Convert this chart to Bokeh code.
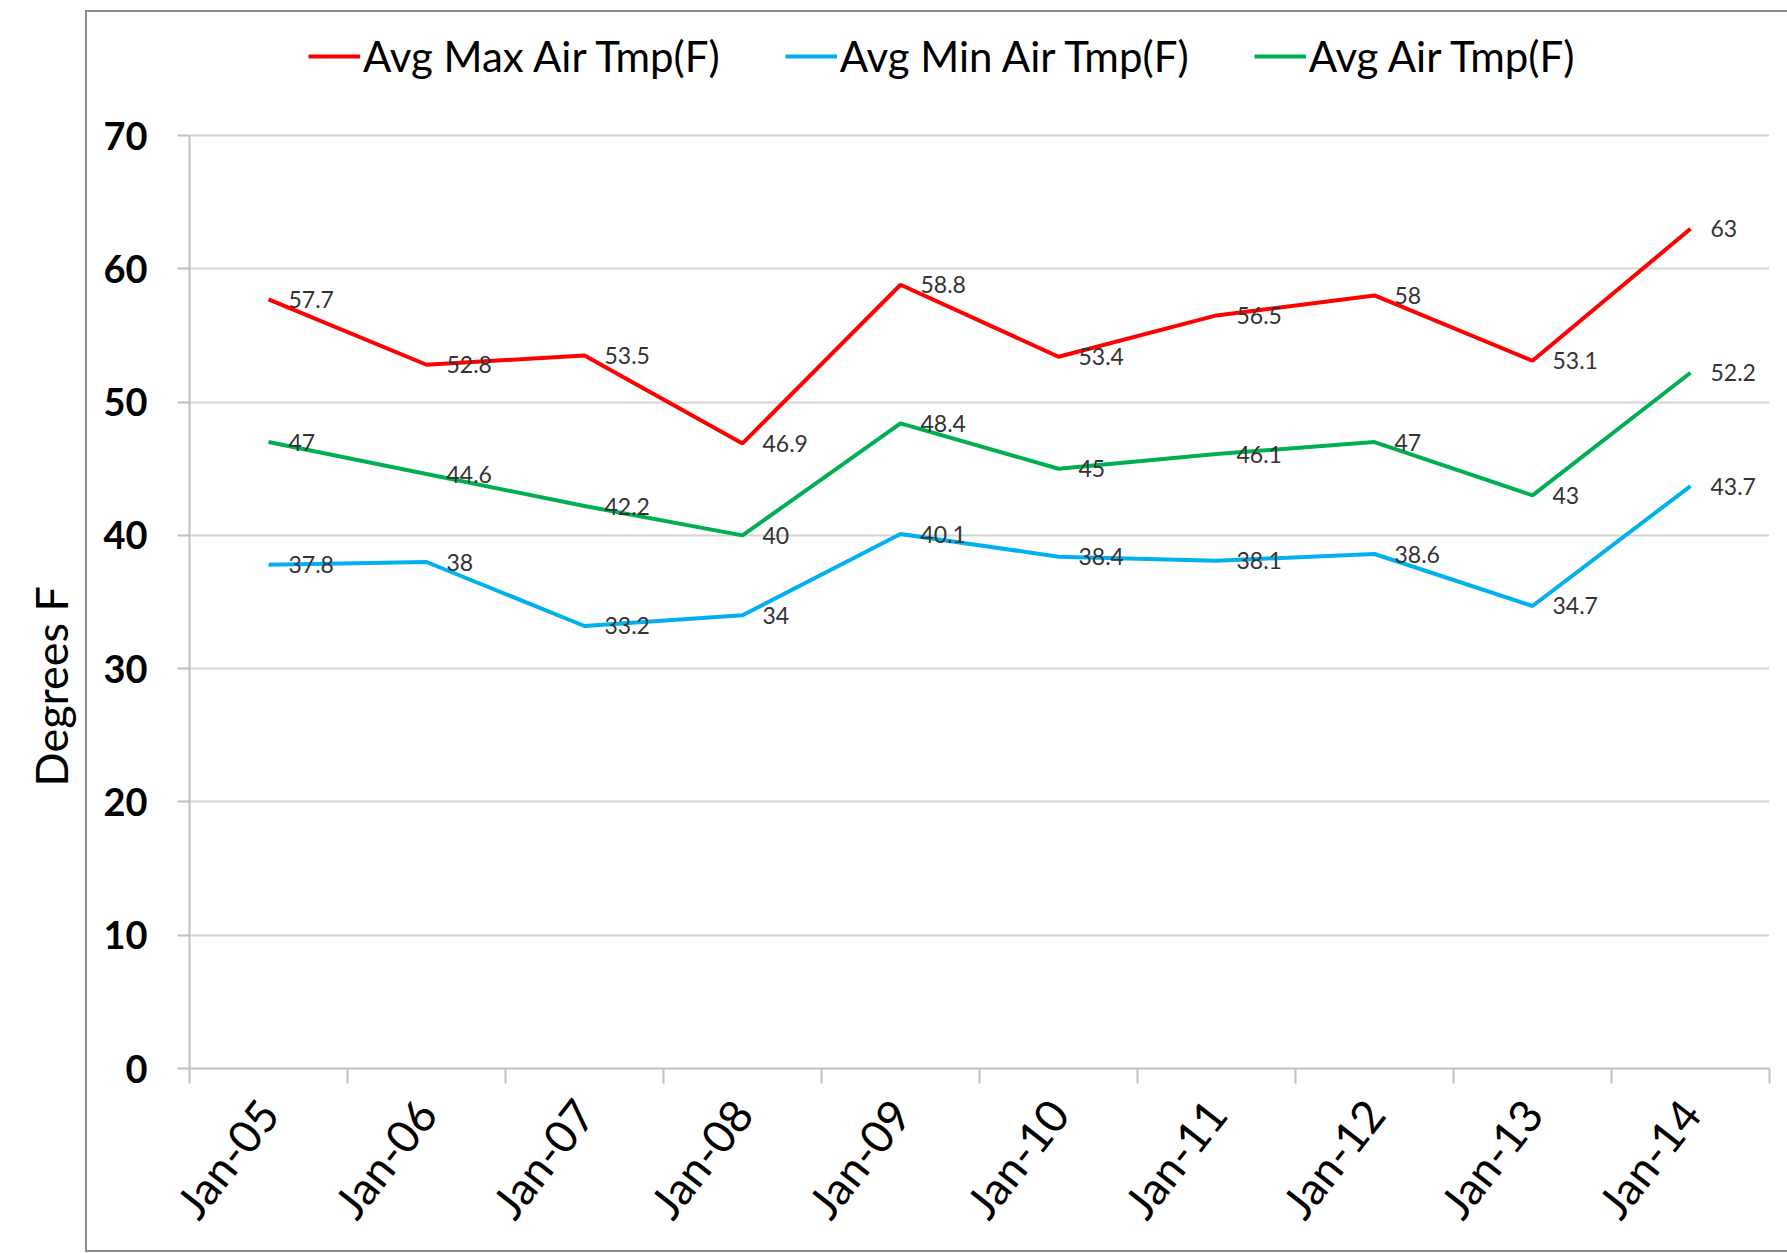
import math
import numpy as np
from bokeh.plotting import figure
from bokeh.models import (Range1d, FixedTicker, Legend, LegendItem, Title,
                          ColumnDataSource, LabelSet, InlineStyleSheet)
from bokeh.embed import file_html
from bokeh.resources import INLINE
from bokeh.core.properties import value

# ---------------- data ----------------
months = ["Jan-05", "Jan-06", "Jan-07", "Jan-08", "Jan-09",
          "Jan-10", "Jan-11", "Jan-12", "Jan-13", "Jan-14"]
avg_max = [57.7, 52.8, 53.5, 46.9, 58.8, 53.4, 56.5, 58.0, 53.1, 63.0]
avg_min = [37.8, 38.0, 33.2, 34.0, 40.1, 38.4, 38.1, 38.6, 34.7, 43.7]
avg_air = [47.0, 44.6, 42.2, 40.0, 48.4, 45.0, 46.1, 47.0, 43.0, 52.2]
series_names = ["Avg Max Air Tmp(F)", "Avg Min Air Tmp(F)", "Avg Air Tmp(F)"]
series_colors = ["#FF0000", "#00B0F0", "#00B050"]
y_ticks = [0, 10, 20, 30, 40, 50, 60, 70]
y_label = "Degrees F"

# ---------------- layout constants (pixels) ----------------
W, H = 1787, 1253
FONT = "Lato"
AXIS_TOP_PX = 135      # where the value 70 sits
AXIS_BOTTOM_PX = 1068  # where the value 0 sits
FRAME_TOP_PX = 30      # drawing area extends above the axis to host the legend
Y_MIN, Y_MAX = y_ticks[0], y_ticks[-1]
px_per_unit = (AXIS_BOTTOM_PX - AXIS_TOP_PX) / (Y_MAX - Y_MIN)
y_end = Y_MAX + (AXIS_TOP_PX - FRAME_TOP_PX) / px_per_unit

n = len(months)
xs = list(np.arange(n) + 0.5)  # category centres on a numeric scale

border_css = InlineStyleSheet(css="""
:host { position: relative; }
:host::after {
  content: ""; position: absolute; pointer-events: none;
  left: 85px; top: 10px; width: 1702px; height: 1242px;
  box-sizing: border-box;
  border-left: 2.5px solid #8c8c8c; border-top: 2.5px solid #8c8c8c;
  border-bottom: 2.5px solid #8c8c8c; border-right: none;
}
""")

p = figure(width=W, height=H, output_backend="svg", toolbar_location=None,
           x_range=Range1d(0, n), y_range=Range1d(Y_MIN, y_end),
           min_border_left=189, min_border_right=18,
           min_border_top=FRAME_TOP_PX, min_border_bottom=H - AXIS_BOTTOM_PX,
           background_fill_color="white", border_fill_color="white")
p.stylesheets = [border_css]
p.outline_line_color = None

# grid
p.xgrid.visible = False
p.ygrid.ticker = FixedTicker(ticks=y_ticks)
p.ygrid.grid_line_color = "#d4d4d4"
p.ygrid.grid_line_width = 2

# y axis
ya = p.yaxis[0]
ya.ticker = FixedTicker(ticks=y_ticks)
ya.bounds = (Y_MIN, Y_MAX)
ya.axis_line_color = "#c0c0c0"
ya.axis_line_width = 2
ya.major_tick_line_color = "#c0c0c0"
ya.major_tick_line_width = 2
ya.major_tick_out = 12
ya.major_tick_in = 0
ya.minor_tick_line_color = None
ya.major_label_standoff = 30
ya.major_label_text_font = FONT
ya.major_label_text_font_style = "bold"
ya.major_label_text_font_size = "38px"
ya.major_label_text_color = "#000000"

# y axis title, placed a little below the centre as in the original
ytitle = Title(text=y_label, align="left", offset=282, standoff=42,
               vertical_align="top",
               text_font=FONT, text_font_style="normal", text_font_size="45px",
               text_color="#000000")
p.add_layout(ytitle, "left")

# x axis: labels at category centres, tick marks at category boundaries
xa = p.xaxis[0]
xa.ticker = FixedTicker(ticks=xs, minor_ticks=list(range(n + 1)))
xa.major_label_overrides = {float(x): m for x, m in zip(xs, months)}
xa.axis_line_color = "#c0c0c0"
xa.axis_line_width = 2
xa.major_tick_line_color = None
xa.major_tick_out = 0
xa.major_tick_in = 0
xa.minor_tick_line_color = "#c0c0c0"
xa.minor_tick_line_width = 2
xa.minor_tick_out = 15
xa.minor_tick_in = 0
xa.major_label_orientation = math.radians(52)
xa.major_label_standoff = 22
xa.major_label_text_font = FONT
xa.major_label_text_font_size = "45px"
xa.major_label_text_color = "#000000"

# ---------------- series ----------------
renderers = []
for name, vals, col in zip(series_names, [avg_max, avg_min, avg_air], series_colors):
    src = ColumnDataSource(dict(x=xs, y=vals, lab=[f"{v:g}" for v in vals]))
    r = p.line("x", "y", source=src, line_color=col, line_width=4)
    renderers.append(r)
    p.add_layout(LabelSet(x="x", y="y", text="lab", source=src, x_offset=20,
                          text_baseline="middle", text_align="left",
                          text_font=value(FONT), text_font_size="23px",
                          text_color="#333333"))

legend = Legend(items=[LegendItem(label=nm, renderers=[r]) for nm, r in zip(series_names, renderers)],
                orientation="horizontal", location=(119, AXIS_BOTTOM_PX - 81),
                padding=0, margin=0, spacing=65,
                glyph_width=52, glyph_height=40, label_height=40, label_standoff=3,
                label_text_font=FONT, label_text_font_size="42px",
                label_text_color="#000000", label_text_baseline="middle",
                border_line_color=None, background_fill_alpha=0)
p.add_layout(legend, "center")

open("out.html", "w").write(file_html(p, INLINE))
